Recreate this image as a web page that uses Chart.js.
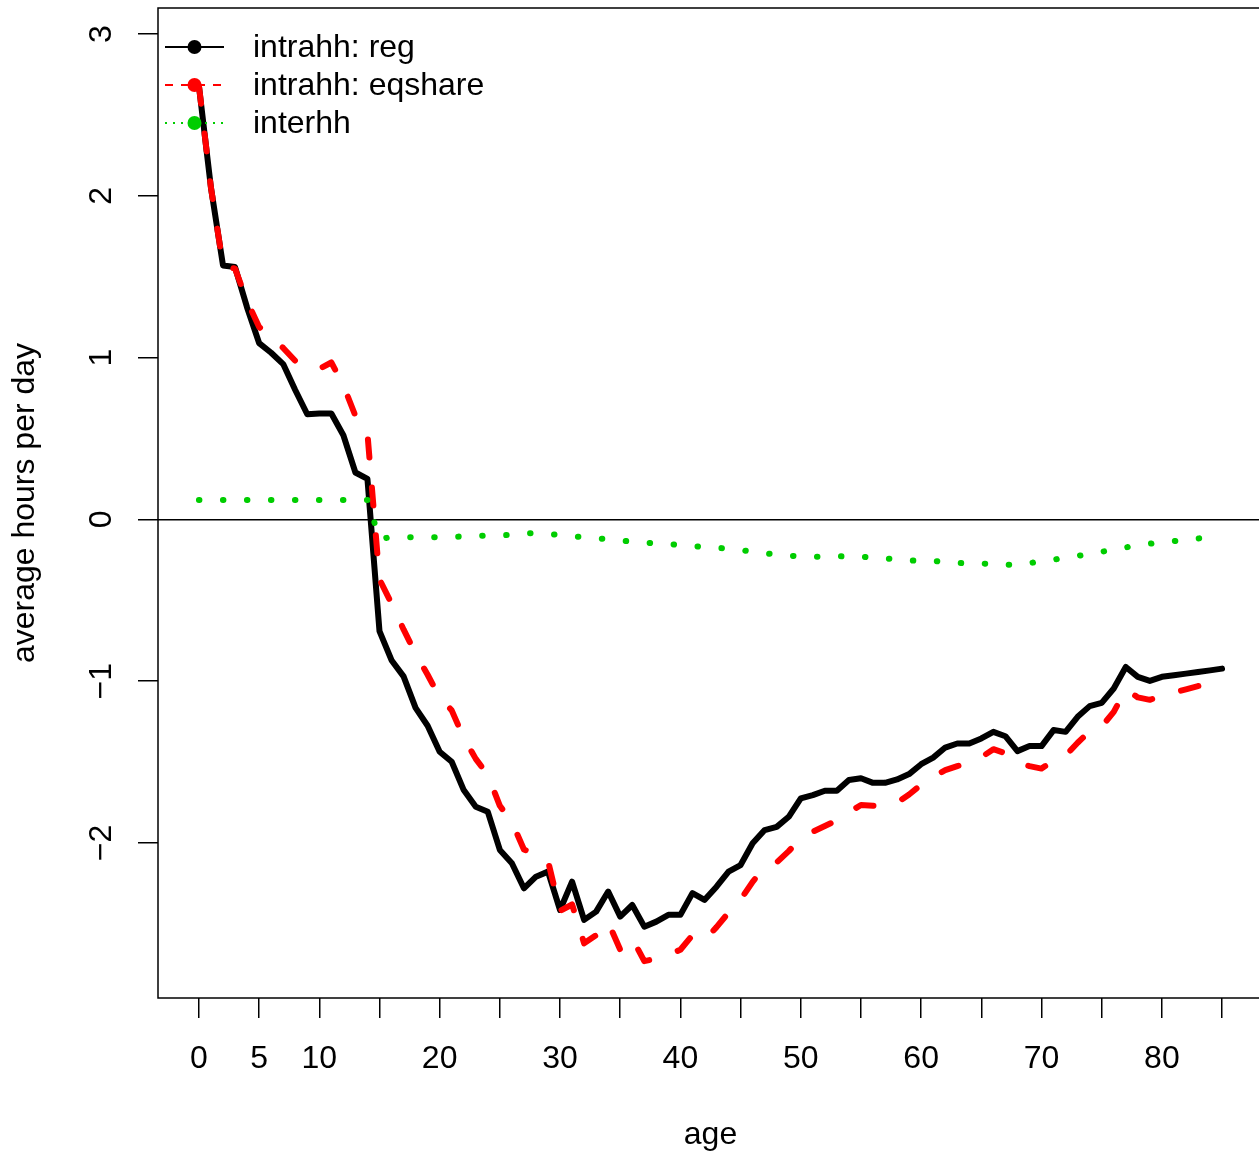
<!DOCTYPE html>
<html>
<head>
<meta charset="utf-8">
<script src="https://cdn.jsdelivr.net/npm/chart.js@4.4.0/dist/chart.umd.min.js"></script>
<style>
html, body { margin: 0; padding: 0; background: #fff; overflow: hidden; width: 1259px; height: 1151px; }
#wrap { width: 1263px; height: 1151px; }
</style>
</head>
<body>
<div id="wrap"><canvas id="myChart" width="1263" height="1151"></canvas></div>
<script>
// ages 0..85
const ages = []
for (let a = 0; a <= 85; a++) ages.push(a)

const regHours = [
  2.68, 2.05, 1.57, 1.56, 1.31, 1.09, 1.03, 0.96, 0.80, 0.65,
  0.655, 0.655, 0.52, 0.29, 0.25, -0.69, -0.87, -0.97, -1.165, -1.275,
  -1.436, -1.498, -1.673, -1.776, -1.807, -2.043, -2.125, -2.28, -2.208, -2.177,
  -2.414, -2.239, -2.475, -2.424, -2.30, -2.455, -2.383, -2.517, -2.486, -2.444,
  -2.444, -2.31, -2.352, -2.27, -2.177, -2.136, -2.002, -1.92, -1.90, -1.838,
  -1.724, -1.704, -1.677, -1.677, -1.611, -1.60, -1.628, -1.628, -1.607, -1.574,
  -1.513, -1.472, -1.41, -1.385, -1.385, -1.354, -1.313, -1.34, -1.432, -1.401,
  -1.401, -1.302, -1.313, -1.22, -1.154, -1.134, -1.045, -0.912, -0.973, -0.998,
  -0.973, -0.963, -0.953, -0.943, -0.933, -0.922
]

const eqshareHours = [
  2.68, 2.05, 1.57, 1.55, 1.35, 1.19, 1.12, 1.06, 0.98, 0.94,
  0.93, 0.97, 0.83, 0.64, 0.53, -0.37, -0.52, -0.68, -0.83, -0.96,
  -1.10, -1.18, -1.35, -1.48, -1.58, -1.77, -1.87, -2.04, -2.07, -2.11,
  -2.42, -2.38, -2.62, -2.57, -2.49, -2.66, -2.59, -2.73, -2.715, -2.69,
  -2.66, -2.57, -2.60, -2.52, -2.43, -2.35, -2.24, -2.15, -2.12, -2.05,
  -1.97, -1.93, -1.895, -1.86, -1.81, -1.765, -1.77, -1.765, -1.75, -1.70,
  -1.64, -1.59, -1.55, -1.525, -1.50, -1.47, -1.42, -1.445, -1.50, -1.525,
  -1.54, -1.49, -1.46, -1.38, -1.31, -1.28, -1.19, -1.05, -1.10, -1.115,
  -1.09, -1.07, -1.05, -1.03, -1.01, -0.99
]

const interhhHours = [
  0.12, 0.12, 0.12, 0.12, 0.12, 0.12, 0.12, 0.12, 0.12, 0.12,
  0.12, 0.12, 0.12, 0.12, 0.12, -0.12, -0.11, -0.11, -0.11, -0.11,
  -0.11, -0.108, -0.105, -0.102, -0.10, -0.098, -0.096, -0.086, -0.085, -0.09,
  -0.096, -0.104, -0.111, -0.116, -0.122, -0.13, -0.138, -0.143, -0.148, -0.153,
  -0.158, -0.165, -0.17, -0.175, -0.181, -0.19, -0.199, -0.209, -0.217, -0.224,
  -0.228, -0.23, -0.23, -0.228, -0.229, -0.23, -0.235, -0.241, -0.248, -0.253,
  -0.256, -0.257, -0.262, -0.269, -0.271, -0.273, -0.275, -0.28, -0.281, -0.27,
  -0.259, -0.249, -0.236, -0.226, -0.212, -0.20, -0.186, -0.173, -0.16, -0.15,
  -0.141, -0.134, -0.127, -0.118, -0.11, -0.102
]

const xTickValues = [0, 5, 10, 15, 20, 25, 30, 35, 40, 45, 50, 55, 60, 65, 70, 75, 80, 85]
const xTickLabels = [0, 5, 10, 20, 30, 40, 50, 60, 70, 80]
const yTickValues = [-2, -1, 0, 1, 2, 3]
const yTickLabels = ['\u22122', '\u22121', '0', '1', '2', '3']

const seriesNames = ['intrahh: reg', 'intrahh: eqshare', 'interhh']

const FONT = '"Liberation Sans", Arial, Helvetica, sans-serif'
const FSIZE = 32
const RED = '#FF0000'
const GREEN = '#00CD00'

function toPoints(vals) {
  return vals.map((v, i) => ({x: ages[i], y: v}))
}

// box, rotated y labels and legend like base R
const rPlot = {
  id: 'rPlot',
  afterDraw(chart) {
    const ctx = chart.ctx
    const a = chart.chartArea
    const yScale = chart.scales.y

    ctx.save()
    ctx.strokeStyle = '#000'
    ctx.lineWidth = 1.5
    ctx.strokeRect(a.left, a.top, a.right - a.left, a.bottom - a.top)

    ctx.fillStyle = '#000'
    ctx.font = FSIZE + 'px ' + FONT
    ctx.textAlign = 'center'
    ctx.textBaseline = 'alphabetic'
    yTickValues.forEach((v, i) => {
      const py = yScale.getPixelForValue(v)
      ctx.save()
      ctx.translate(111, py)
      ctx.rotate(-Math.PI / 2)
      ctx.fillText(yTickLabels[i], 0, 0)
      ctx.restore()
    })

    // legend
    const rows = [47, 85, 123]
    const styles = [
      {color: '#000', dash: []},
      {color: RED, dash: [8, 8]},
      {color: GREEN, dash: [2, 6]}
    ]
    rows.forEach((ry, i) => {
      ctx.save()
      ctx.strokeStyle = styles[i].color
      ctx.lineWidth = 2
      ctx.setLineDash(styles[i].dash)
      ctx.beginPath()
      ctx.moveTo(165, ry)
      ctx.lineTo(224, ry)
      ctx.stroke()
      ctx.restore()
      ctx.beginPath()
      ctx.fillStyle = styles[i].color
      ctx.arc(194.5, ry, 7, 0, Math.PI * 2)
      ctx.fill()
      ctx.fillStyle = '#000'
      ctx.textAlign = 'left'
      ctx.textBaseline = 'middle'
      ctx.fillText(seriesNames[i], 253, ry + 1)
    })
    ctx.restore()
  }
}

const config = {
  type: 'line',
  data: {
    datasets: [
      {
        label: seriesNames[0],
        data: toPoints(regHours),
        borderColor: '#000',
        borderWidth: 6,
        borderJoinStyle: 'round',
        borderCapStyle: 'round',
        pointRadius: 0,
        tension: 0,
        order: 3
      },
      {
        label: seriesNames[1],
        data: toPoints(eqshareHours),
        borderColor: RED,
        borderWidth: 6,
        borderDash: [18, 30],
        borderJoinStyle: 'round',
        borderCapStyle: 'round',
        pointRadius: 0,
        tension: 0,
        order: 2
      },
      {
        label: seriesNames[2],
        data: toPoints(interhhHours),
        borderColor: GREEN,
        borderWidth: 6,
        borderDash: [0.5, 23.5],
        borderJoinStyle: 'round',
        borderCapStyle: 'round',
        pointRadius: 0,
        tension: 0,
        order: 1
      }
    ]
  },
  options: {
    responsive: false,
    animation: false,
    devicePixelRatio: 1,
    layout: {padding: {top: 8, left: 0, right: 0, bottom: 0}},
    plugins: {legend: {display: false}, tooltip: {enabled: false}},
    scales: {
      x: {
        type: 'linear',
        min: -3.4,
        max: 88.4,
        afterBuildTicks: s => { s.ticks = xTickValues.map(v => ({value: v})) },
        afterFit: s => { s.height = 153 },
        border: {display: false},
        grid: {drawOnChartArea: false, drawTicks: true, tickLength: 20, color: '#000', lineWidth: 1.5},
        ticks: {
          autoSkip: false, maxRotation: 0, minRotation: 0, padding: 22, color: '#000',
          font: {family: FONT, size: FSIZE},
          callback: v => xTickLabels.includes(v) ? String(v) : ''
        },
        title: {display: true, text: 'age', color: '#000', font: {family: FONT, size: FSIZE, lineHeight: 1}, padding: {top: 0, bottom: 0}}
      },
      y: {
        type: 'linear',
        min: -2.958,
        max: 3.161,
        afterBuildTicks: s => { s.ticks = yTickValues.map(v => ({value: v})) },
        afterFit: s => { s.width = 158 },
        border: {display: false},
        grid: {
          drawOnChartArea: true, drawTicks: true, tickLength: 20, lineWidth: 1.5,
          color: c => (c.tick && c.tick.value === 0) ? '#000' : 'rgba(0,0,0,0)',
          tickColor: '#000'
        },
        ticks: {display: false},
        title: {display: true, text: 'average hours per day', color: '#000', font: {family: FONT, size: FSIZE}, padding: {top: 6, bottom: 0}}
      }
    }
  },
  plugins: [rPlot]
}

const myChart = new Chart(document.getElementById('myChart'), config)
</script>
</body>
</html>
